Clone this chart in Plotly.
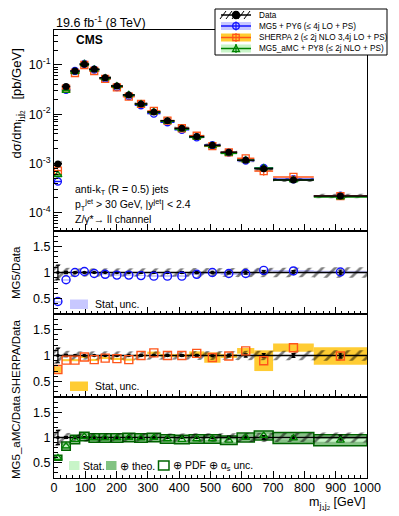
import plotly.graph_objects as go

# ---------------- data ----------------
edges = [0, 25, 52, 82, 112, 145, 182, 220, 258, 298, 340, 385, 432, 480, 532, 585, 640, 700, 830, 1000]
data_xs = [9.8e-4, 0.0365, 0.0756, 0.103, 0.082, 0.055, 0.0375, 0.0247, 0.0162, 0.0111,
           0.0074, 0.0052, 0.00352, 0.00235, 0.0017, 0.00117, 0.00078, 0.000465, 0.00022]
data_stat = [0.14, 0.02, 0.01, 0.01, 0.01, 0.01, 0.01, 0.01, 0.012, 0.014,
             0.016, 0.018, 0.02, 0.024, 0.028, 0.032, 0.036, 0.035, 0.045]
data_tot = [0.16, 0.09, 0.08, 0.08, 0.08, 0.08, 0.08, 0.08, 0.08, 0.08,
            0.08, 0.08, 0.085, 0.085, 0.085, 0.09, 0.09, 0.09, 0.1]
ratio_mg5 = [0.44, 0.86, 1.0, 1.02, 0.98, 0.965, 0.95, 0.95, 0.94, 0.93,
             0.93, 0.93, 0.965, 1.0, 0.98, 0.98, 1.04, 1.03, 1.01]
mg5_stat = [0.01, 0.006, 0.005, 0.005, 0.005, 0.005, 0.005, 0.005, 0.006, 0.006,
            0.007, 0.008, 0.009, 0.01, 0.012, 0.014, 0.02, 0.02, 0.025]
ratio_sherpa = [0.73, 0.91, 0.91, 0.97, 0.92, 0.95, 0.94, 0.92, 1.0, 1.05,
                1.0, 1.0, 1.04, 0.96, 0.99, 1.09, 0.9, 1.15, 0.99]
sherpa_stat = [0.06, 0.02, 0.02, 0.015, 0.015, 0.015, 0.015, 0.02, 0.02, 0.025,
               0.03, 0.03, 0.04, 0.1, 0.035, 0.055, 0.2, 0.08, 0.17]
ratio_amc = [0.6, 0.83, 0.96, 1.02, 0.99, 0.99, 0.99, 1.0, 0.99, 1.0,
             0.97, 0.96, 0.97, 0.97, 0.945, 1.0, 1.04, 0.99, 0.945]
amc_stat = [0.02, 0.015, 0.01, 0.01, 0.01, 0.01, 0.01, 0.01, 0.01, 0.012,
            0.012, 0.014, 0.015, 0.016, 0.018, 0.02, 0.025, 0.025, 0.03]
amc_theo = [0.04, 0.07, 0.075, 0.075, 0.075, 0.075, 0.075, 0.075, 0.075, 0.075,
            0.075, 0.075, 0.075, 0.075, 0.075, 0.08, 0.08, 0.1, 0.1]
amc_tot = [0.05, 0.08, 0.085, 0.085, 0.085, 0.085, 0.085, 0.085, 0.085, 0.085,
           0.085, 0.085, 0.085, 0.085, 0.085, 0.09, 0.09, 0.11, 0.11]
x_ticks = [0, 100, 200, 300, 400, 500, 600, 700, 800, 900, 1000]
log_ticks = [1e-4, 1e-3, 1e-2, 1e-1]
log_labels = ["10<sup>-4</sup>", "10<sup>-3</sup>", "10<sup>-2</sup>", "10<sup>-1</sup>"]
ratio_ticks = [0.5, 1, 1.5]
ratio_labels = ["0.5", "1", "1.5"]

centers = [(a + b) / 2 for a, b in zip(edges[:-1], edges[1:])]
widths = [b - a for a, b in zip(edges[:-1], edges[1:])]
half = [w / 2 for w in widths]

# ---------------- geometry (screen pixels; page body has an 8px margin) ----------------
OFF = 8
SW, SH = 399, 516
W, H = SW - OFF, SH - OFF
X0, X1, Y0, Y1 = 54, 367, 30, 478      # plot area on screen
L, R, T, B = X0 - OFF, SW - X1, Y0 - OFF, SH - Y1
PW, PH = X1 - X0, Y1 - Y0


def px(X):
    return (X - X0) / PW


def py(Y):
    return (Y1 - Y) / PH


FONT = "Liberation Sans"
BLUE = "rgb(20,20,255)"
BLUE_BAND = "rgb(200,200,255)"
ORANGE = "rgb(255,85,25)"
YELLOW = "rgb(255,204,51)"
GREEN = "rgb(0,130,0)"
DKGREEN = "rgb(0,100,0)"
LTGREEN = "rgb(200,245,200)"
MDGREEN = "rgba(70,160,70,0.65)"

fig = go.Figure()

hatch = dict(shape="/", fgcolor="black", bgcolor="rgba(0,0,0,0)", size=9, solidity=0.3)

# ---------------- top panel ----------------
fig.add_trace(go.Bar(x=centers, width=widths,
                     base=[d * (1 - e) for d, e in zip(data_xs, data_tot)],
                     y=[2 * d * e for d, e in zip(data_xs, data_tot)],
                     marker=dict(color="rgba(0,0,0,0)", pattern=hatch, line=dict(width=0)),
                     xaxis="x", yaxis="y", showlegend=False, hoverinfo="skip"))

mcs = [
    (ratio_mg5, mg5_stat, BLUE, "circle-open"),
    (ratio_sherpa, sherpa_stat, ORANGE, "square-open"),
    (ratio_amc, amc_stat, GREEN, "triangle-up-open"),
]
for rat, st, col, sym in mcs:
    vals = [d * r for d, r in zip(data_xs, rat)]
    fig.add_trace(go.Scatter(
        x=centers, y=vals, mode="markers", xaxis="x", yaxis="y", showlegend=False,
        marker=dict(symbol=sym, color=col, size=7, line=dict(width=1.3, color=col)),
        error_x=dict(type="data", array=half, color=col, thickness=1.5, width=0),
        error_y=dict(type="data", array=[v * s for v, s in zip(vals, st)], color=col, thickness=1.2, width=0)))

fig.add_trace(go.Scatter(
    x=centers, y=data_xs, mode="markers", xaxis="x", yaxis="y", showlegend=False,
    marker=dict(symbol="circle", color="black", size=7),
    error_x=dict(type="data", array=half, color="black", thickness=1.5, width=0),
    error_y=dict(type="data", array=[d * s for d, s in zip(data_xs, data_stat)], color="black", thickness=1.2, width=0)))


# ---------------- ratio panels ----------------
def add_bar(ax, ay, base, height, **kw):
    fig.add_trace(go.Bar(x=centers, width=widths, base=base, y=height,
                         xaxis=ax, yaxis=ay, showlegend=False, hoverinfo="skip", **kw))


def data_in_ratio(ax, ay):
    add_bar(ax, ay, [1 - e for e in data_tot], [2 * e for e in data_tot],
            marker=dict(color="rgba(0,0,0,0)", pattern=hatch, line=dict(width=0)))
    fig.add_trace(go.Scatter(x=[0, 1000], y=[1, 1], mode="lines", line=dict(color="black", width=1.6),
                             xaxis=ax, yaxis=ay, showlegend=False, hoverinfo="skip"))
    fig.add_trace(go.Scatter(x=centers, y=[1] * len(centers), mode="markers", xaxis=ax, yaxis=ay,
                             showlegend=False, marker=dict(color="black", size=3.5),
                             error_y=dict(type="data", array=data_stat, color="black", thickness=1.2, width=2)))


# MG5 panel
add_bar("x2", "y2", [r - s for r, s in zip(ratio_mg5, mg5_stat)], [2 * s for s in mg5_stat],
        marker=dict(color=BLUE_BAND, line=dict(width=0)))
data_in_ratio("x2", "y2")
fig.add_trace(go.Scatter(x=centers, y=ratio_mg5, mode="markers", xaxis="x2", yaxis="y2", showlegend=False,
                         marker=dict(symbol="circle-open", color=BLUE, size=8, line=dict(width=1.4, color=BLUE))))

# SHERPA panel
add_bar("x3", "y3", [r - s for r, s in zip(ratio_sherpa, sherpa_stat)], [2 * s for s in sherpa_stat],
        marker=dict(color=YELLOW, line=dict(width=0)))
data_in_ratio("x3", "y3")
fig.add_trace(go.Scatter(x=centers, y=ratio_sherpa, mode="markers", xaxis="x3", yaxis="y3", showlegend=False,
                         marker=dict(symbol="square-open", color=ORANGE, size=8, line=dict(width=1.4, color=ORANGE))))

# MG5_aMC panel
add_bar("x4", "y4", [r - s for r, s in zip(ratio_amc, amc_theo)], [2 * s for s in amc_theo],
        marker=dict(color=MDGREEN, line=dict(width=0)))
add_bar("x4", "y4", [r - s for r, s in zip(ratio_amc, amc_stat)], [2 * s for s in amc_stat],
        marker=dict(color=LTGREEN, line=dict(width=0)))
add_bar("x4", "y4", [r - s for r, s in zip(ratio_amc, amc_tot)], [2 * s for s in amc_tot],
        marker=dict(color="rgba(0,0,0,0)", line=dict(width=1.5, color=DKGREEN)))
data_in_ratio("x4", "y4")
fig.add_trace(go.Scatter(x=centers, y=ratio_amc, mode="markers", xaxis="x4", yaxis="y4", showlegend=False,
                         marker=dict(symbol="triangle-up-open", color=GREEN, size=7, line=dict(width=1.3, color=GREEN))))

# ---------------- axes ----------------
doms = [(py(231), 1.0), (py(314), py(231)), (py(397), py(314)), (0.0, py(397))]

tickfont = dict(family=FONT, size=12.5, color="black")
xcommon = dict(range=[0, 1000], showline=True, mirror=True, linecolor="black", linewidth=1,
               ticks="inside", ticklen=7, tickcolor="black", tickvals=x_ticks, showgrid=False,
               zeroline=False, minor=dict(dtick=20, tick0=0, ticks="inside", ticklen=3.5, tickcolor="black"),
               tickfont=tickfont, ticklabelstandoff=-2)
ycommon_ratio = dict(range=[0.2, 1.8], showline=True, mirror=True, linecolor="black", linewidth=1,
                     ticks="inside", ticklen=8, tickcolor="black", tickvals=ratio_ticks, ticktext=ratio_labels,
                     showgrid=False, zeroline=False, tickfont=tickfont,
                     minor=dict(dtick=0.1, tick0=0.2, ticks="inside", ticklen=4, tickcolor="black"))

minor_log = [k * 10 ** e for e in range(-5, 0) for k in range(2, 10)]
layout = dict(
    width=W, height=H, margin=dict(l=L, r=R, t=T, b=B),
    paper_bgcolor="white", plot_bgcolor="white", barmode="overlay", showlegend=False,
    font=dict(family=FONT, color="black"),
    xaxis=dict(xcommon, anchor="y", domain=[0, 1], showticklabels=False),
    yaxis=dict(type="log", range=[-4.37, -0.29], domain=list(doms[0]), anchor="x",
               showline=True, mirror=True, linecolor="black", linewidth=1,
               ticks="inside", ticklen=8, tickcolor="black", tickvals=log_ticks, ticktext=log_labels,
               showgrid=False, zeroline=False, tickfont=tickfont,
               minor=dict(tickvals=minor_log, ticks="inside", ticklen=4, tickcolor="black")),
)
for i, ax in enumerate(["2", "3", "4"], start=1):
    layout["xaxis" + ax] = dict(xcommon, anchor="y" + ax, domain=[0, 1], matches="x",
                                showticklabels=(ax == "4"))
    layout["yaxis" + ax] = dict(ycommon_ratio, anchor="x" + ax, domain=list(doms[i]))
fig.update_layout(**layout)

# ---------------- annotations ----------------
ann = []


def text(X, Y, s, size=10, xa="left", ya="middle", angle=0, family=FONT):
    ann.append(dict(x=px(X), y=py(Y), xref="paper", yref="paper", text=s, showarrow=False,
                    xanchor=xa, yanchor=ya, textangle=angle, borderpad=0,
                    font=dict(family=family, size=size, color="black")))


text(55, 22, "19.6 fb<sup>-1</sup> (8 TeV)", size=12.5)
text(75, 40, "<b>CMS</b>", size=12)
text(74, 190, "anti-k<sub>T</sub> (R = 0.5) jets", size=10.5)
text(74, 205, "p<sub>T</sub><sup>jet</sup> > 30 GeV, |y<sup>jet</sup>| < 2.4", size=10.5)
text(74, 219, "Z/γ*→ ll channel", size=10.5)
text(17.5, 104, "dσ/dm<sub>j<sub>1</sub>j<sub>2</sub></sub>   [pb/GeV]", size=13, xa="center", angle=-90)
text(16, 273, "MG5/Data", size=11.5, xa="center", angle=-90)
text(16, 357, "SHERPA/Data", size=11.5, xa="center", angle=-90)
text(16, 437, "MG5_aMC/Data", size=11.5, xa="center", angle=-90)
text(367, 494, "m<sub>j<sub>1</sub>j<sub>2</sub></sub> [GeV]", size=12.5, xa="right", ya="top")

# ratio panel legends
text(93.5, 304, "Stat. unc.", size=10.5)
text(93.5, 386, "Stat. unc.", size=10.5)
text(82, 465.5, "Stat.", size=10.5)
text(119, 465.5, "⊕ theo.", size=10.5)
text(171.5, 465.5, "⊕ PDF ⊕ α<sub>s</sub> unc.", size=10.5)

# top legend texts
leg_rows = [15, 26, 37.5, 48.5]
leg_txt = ["Data", "MG5 + PY6 (≤ 4j LO + PS)", "SHERPA 2 (≤ 2j NLO 3,4j LO + PS)", "MG5_aMC + PY8 (≤ 2j NLO + PS)"]
for yy, s in zip(leg_rows, leg_txt):
    text(257.5, yy, s, size=8.2)

shapes = []


def rect(x0, y0, x1, y1, fill, line=None, lw=1):
    shapes.append(dict(type="rect", xref="paper", yref="paper", x0=px(x0), x1=px(x1), y0=py(y1), y1=py(y0),
                       fillcolor=fill, line=dict(width=lw if line else 0, color=line or "rgba(0,0,0,0)"),
                       layer="above"))


def seg(x0, y0, x1, y1, col, lw=1.5):
    shapes.append(dict(type="line", xref="paper", yref="paper", x0=px(x0), x1=px(x1), y0=py(y0), y1=py(y1),
                       line=dict(color=col, width=lw), layer="above"))


def circ(xc, yc, r, col, fill="white"):
    shapes.append(dict(type="circle", xref="paper", yref="paper", x0=px(xc - r), x1=px(xc + r),
                       y0=py(yc + r), y1=py(yc - r), fillcolor=fill, line=dict(color=col, width=1.3),
                       layer="above"))


# ratio legend boxes
rect(70, 299.5, 88, 309, BLUE_BAND)
rect(70, 381.5, 88, 391, YELLOW)
rect(69, 461, 79.5, 470, LTGREEN)
rect(106, 461, 116.5, 470, "rgb(130,195,130)")
rect(158.5, 461, 169, 470, "white", line=DKGREEN, lw=1.5)

# top legend box
rect(215, 9, 387, 55, "white", line="black", lw=1)
xs0, xs1, xm = 221, 251, 236
# Data
for xx in [220, 226, 232, 238, 244]:
    seg(xx, leg_rows[0] + 4, xx + 6, leg_rows[0] - 4, "black", 1)
seg(xs0, leg_rows[0], xs1, leg_rows[0], "black", 1.5)
circ(xm, leg_rows[0], 3.5, "black", fill="black")
# MG5
rect(xs0, leg_rows[1] - 4, xs1, leg_rows[1] + 4, BLUE_BAND)
seg(xs0, leg_rows[1], xs1, leg_rows[1], BLUE, 1.5)
seg(xm, leg_rows[1] - 4.5, xm, leg_rows[1] + 4.5, BLUE, 1.2)
circ(xm, leg_rows[1], 3.3, BLUE, fill="rgba(0,0,0,0)")
# SHERPA
rect(xs0, leg_rows[2] - 4, xs1, leg_rows[2] + 4, YELLOW)
seg(xs0, leg_rows[2], xs1, leg_rows[2], ORANGE, 1.5)
seg(xm, leg_rows[2] - 4.5, xm, leg_rows[2] + 4.5, ORANGE, 1.2)
rect(xm - 3.2, leg_rows[2] - 3.2, xm + 3.2, leg_rows[2] + 3.2, "rgba(0,0,0,0)", line=ORANGE, lw=1.3)
# aMC
rect(xs0, leg_rows[3] - 4, xs1, leg_rows[3] + 4, LTGREEN)
seg(xs0, leg_rows[3], xs1, leg_rows[3], GREEN, 1.5)
seg(xm, leg_rows[3] - 4.5, xm, leg_rows[3] + 4.5, GREEN, 1.2)
ya = leg_rows[3]
shapes.append(dict(type="path", xref="paper", yref="paper",
                   path=f"M {px(xm-3.5)} {py(ya+3)} L {px(xm+3.5)} {py(ya+3)} L {px(xm)} {py(ya-3.5)} Z",
                   line=dict(color=GREEN, width=1.3), fillcolor="rgba(0,0,0,0)", layer="above"))

fig.update_layout(annotations=ann, shapes=shapes)
fig.write_html("out.html")
